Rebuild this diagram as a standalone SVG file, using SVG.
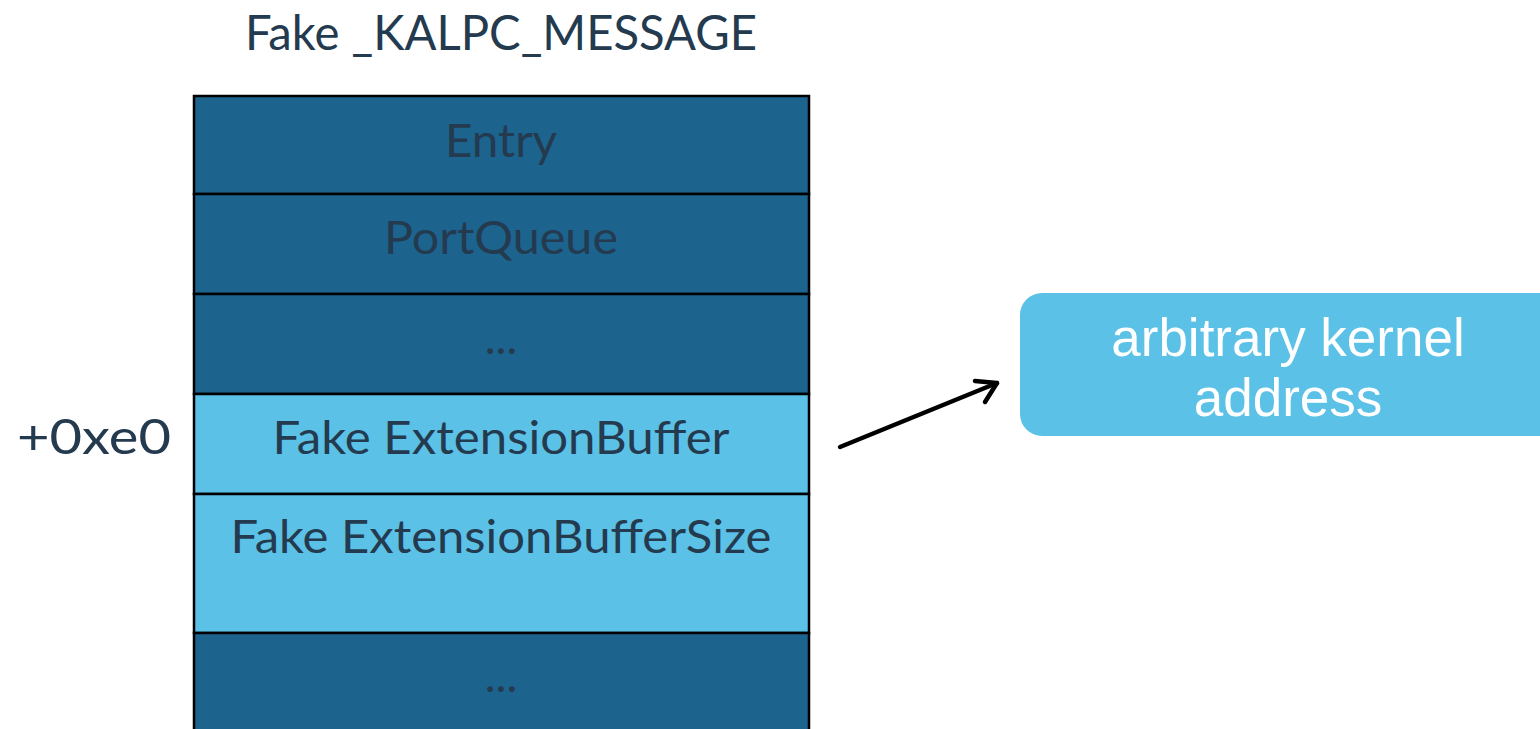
<svg xmlns="http://www.w3.org/2000/svg" width="1540" height="729" viewBox="0 0 1540 729">
  <style>
    .lbl { font-family: Lato, "Open Sans", sans-serif; fill: #243a4f; }
    .dark { fill: #1c638e; stroke: #000; stroke-width: 2.5; }
    .light { fill: #5bc1e6; stroke: #000; stroke-width: 2.5; }
    .box { fill: #5bc1e6; }
    .boxtxt { font-family: "Liberation Sans", Arial, sans-serif; font-size: 53px; fill: #ffffff; text-anchor: middle; }
    .conn { stroke: #000; stroke-width: 4.5; fill: none; stroke-linecap: round; stroke-linejoin: round; }
  </style>

  <!-- structure title -->
  <text class="lbl" x="501" y="50" font-size="48" text-anchor="middle" textLength="512" lengthAdjust="spacingAndGlyphs">Fake _KALPC_MESSAGE</text>

  <!-- offset label -->
  <text class="lbl" x="17" y="454" font-size="48" textLength="154" lengthAdjust="spacingAndGlyphs">+0xe0</text>

  <!-- message fields -->
  <g id="field-entry">
    <rect class="dark" x="194" y="96" width="615" height="98"/>
    <text class="lbl" x="501" y="157" font-size="46" text-anchor="middle" textLength="112" lengthAdjust="spacingAndGlyphs">Entry</text>
  </g>
  <g id="field-portqueue">
    <rect class="dark" x="194" y="194" width="615" height="100"/>
    <text class="lbl" x="501" y="254" font-size="46" text-anchor="middle" textLength="234" lengthAdjust="spacingAndGlyphs">PortQueue</text>
  </g>
  <g id="field-gap1">
    <rect class="dark" x="194" y="294" width="615" height="100"/>
    <text class="lbl" x="501" y="354" font-size="46" text-anchor="middle">...</text>
  </g>
  <g id="field-extbuffer">
    <rect class="light" x="194" y="394" width="615" height="100"/>
    <text class="lbl" x="501" y="454" font-size="46" text-anchor="middle" textLength="457" lengthAdjust="spacingAndGlyphs">Fake ExtensionBuffer</text>
  </g>
  <g id="field-extbuffersize">
    <rect class="light" x="194" y="494" width="615" height="139"/>
    <text class="lbl" x="501" y="553" font-size="46" text-anchor="middle" textLength="541" lengthAdjust="spacingAndGlyphs">Fake ExtensionBufferSize</text>
  </g>
  <g id="field-gap2">
    <rect class="dark" x="194" y="633" width="615" height="110"/>
    <text class="lbl" x="501" y="692" font-size="46" text-anchor="middle">...</text>
  </g>

  <!-- target -->
  <g id="target">
    <rect class="box" x="1020" y="293" width="540" height="143" rx="22" ry="22"/>
    <text class="boxtxt" x="1288" y="356">arbitrary kernel</text>
    <text class="boxtxt" x="1288" y="416">address</text>
  </g>

  <!-- connectors -->
  <g id="connectors">
    <path class="conn" d="M840 447 L997 383"/>
    <path class="conn" d="M975 381 L997 383 L985 402"/>
  </g>
</svg>
